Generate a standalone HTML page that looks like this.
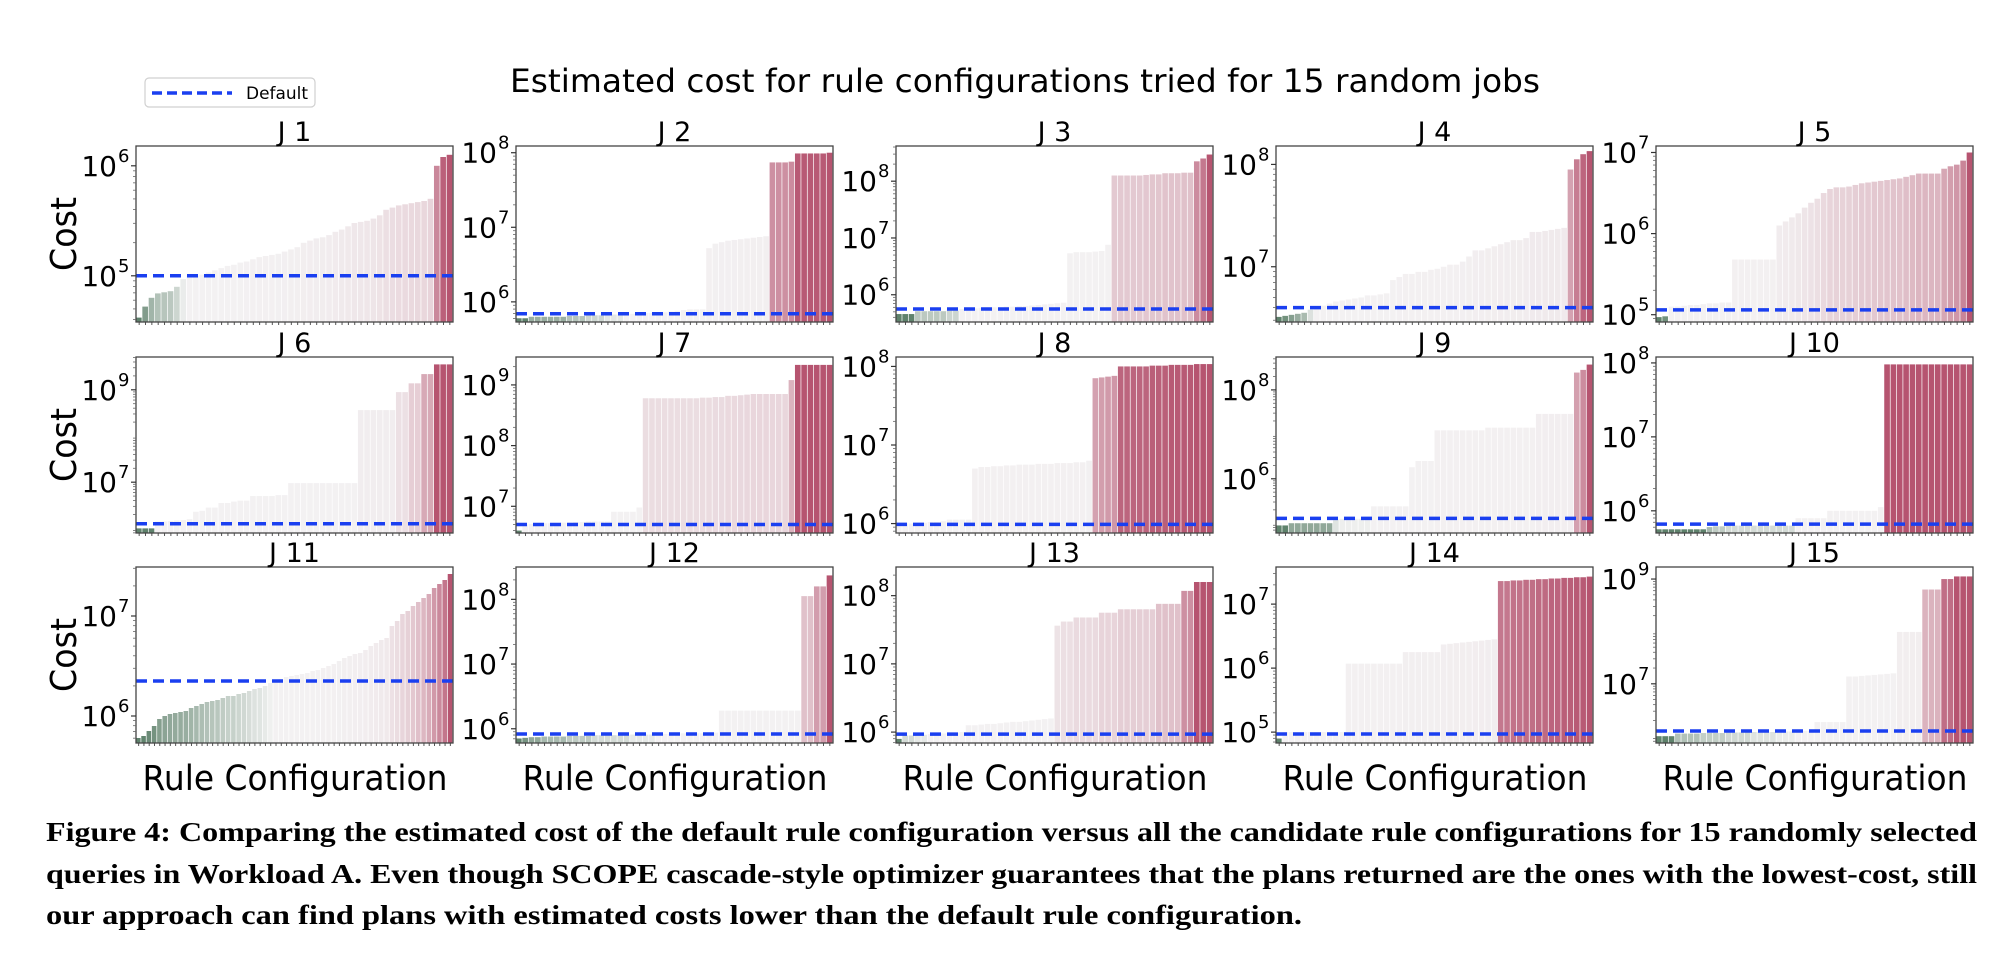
<!DOCTYPE html>
<html><head><meta charset="utf-8"><style>
html,body{margin:0;padding:0;background:#fff;}
svg{display:block;}
</style></head><body>
<svg id="fig" width="2006" height="976" viewBox="0 0 2006 976" xmlns="http://www.w3.org/2000/svg">
<rect x="0" y="0" width="2006" height="976" fill="#fff"/>
<text x="510" y="92" font-family="DejaVu Sans, sans-serif" font-size="32" textLength="1030" lengthAdjust="spacingAndGlyphs" fill="#000">Estimated cost for rule configurations tried for 15 random jobs</text>
<g>
<rect x="145" y="78" width="170" height="29" rx="4" fill="#fff" stroke="#d0d0d0" stroke-width="1.2"/>
<line x1="152" y1="93" x2="232" y2="93" stroke="#1a3ff0" stroke-width="3.5" stroke-dasharray="10,5"/>
<text x="246" y="99" font-family="DejaVu Sans, sans-serif" font-size="17" textLength="62" lengthAdjust="spacingAndGlyphs">Default</text>
</g>
<g id="panels"></g>
<g font-family="Liberation Serif, serif" font-weight="bold" font-size="27" fill="#000">
<text x="46" y="841" textLength="1931" lengthAdjust="spacingAndGlyphs">Figure 4:  Comparing the estimated cost of the default rule configuration versus all the candidate rule configurations for 15 randomly selected</text>
<text x="46" y="883" textLength="1931" lengthAdjust="spacingAndGlyphs">queries in Workload A. Even though SCOPE cascade-style optimizer guarantees that the plans returned are the ones with the lowest-cost, still</text>
<text x="46" y="924" textLength="1256" lengthAdjust="spacingAndGlyphs">our approach can find plans with estimated costs lower than the default rule configuration.</text>
</g>
</svg>
<script>
// log10 of estimated cost per rule configuration, sorted ascending
const j1Cost=[4.62,4.72,4.8,4.84,4.85,4.86,4.9,4.97,5.0,5.0,5.01,5.03,5.05,5.07,5.09,5.1,5.12,5.13,5.15,5.17,5.18,5.19,5.2,5.22,5.24,5.26,5.3,5.32,5.34,5.35,5.37,5.4,5.42,5.45,5.48,5.49,5.5,5.52,5.55,5.6,5.62,5.64,5.65,5.66,5.67,5.68,5.7,6.0,6.08,6.1];
const j2Cost=[5.78,5.78,5.8,5.8,5.8,5.8,5.8,5.8,5.81,5.81,5.81,5.82,5.82,5.82,5.83,5.83,5.83,5.84,5.84,5.84,5.85,5.85,5.86,5.86,5.87,5.88,5.89,5.9,5.9,5.9,6.72,6.78,6.8,6.82,6.83,6.84,6.85,6.86,6.87,6.88,7.87,7.87,7.87,7.88,7.99,7.99,7.99,7.99,7.99,8.0];
const j3Cost=[5.66,5.66,5.66,5.71,5.71,5.71,5.71,5.71,5.72,5.72,5.75,5.76,5.76,5.77,5.77,5.78,5.78,5.79,5.79,5.8,5.8,5.81,5.82,5.83,5.84,5.85,5.86,6.73,6.75,6.75,6.75,6.76,6.77,6.88,8.1,8.1,8.1,8.1,8.1,8.11,8.12,8.12,8.14,8.14,8.14,8.15,8.15,8.35,8.4,8.47];
const j4Cost=[6.51,6.52,6.53,6.54,6.55,6.58,6.6,6.62,6.64,6.66,6.67,6.68,6.69,6.7,6.72,6.72,6.73,6.74,6.87,6.9,6.93,6.93,6.95,6.95,6.97,6.98,7.0,7.02,7.02,7.05,7.1,7.16,7.16,7.18,7.2,7.22,7.24,7.26,7.26,7.28,7.34,7.34,7.35,7.36,7.37,7.38,7.95,8.05,8.1,8.13];
const j5Cost=[4.97,4.98,5.1,5.1,5.11,5.12,5.12,5.13,5.14,5.14,5.15,5.15,5.68,5.68,5.68,5.68,5.68,5.68,5.68,6.1,6.15,6.2,6.25,6.32,6.38,6.43,6.5,6.55,6.57,6.57,6.58,6.6,6.62,6.63,6.64,6.65,6.66,6.67,6.68,6.7,6.72,6.74,6.74,6.74,6.74,6.8,6.83,6.85,6.9,7.0];
const j6Cost=[6.0,6.0,6.0,6.15,6.15,6.16,6.17,6.18,6.2,6.36,6.38,6.45,6.45,6.55,6.55,6.58,6.6,6.6,6.7,6.7,6.7,6.7,6.72,6.72,6.98,6.98,6.98,6.98,6.98,6.98,6.98,6.98,6.98,6.98,6.98,8.56,8.56,8.56,8.56,8.56,8.56,8.95,8.95,9.14,9.14,9.34,9.34,9.55,9.55,9.55];
const j7Cost=[6.6,6.7,6.71,6.71,6.72,6.72,6.72,6.73,6.73,6.74,6.74,6.75,6.75,6.75,6.75,6.91,6.91,6.91,6.91,6.98,8.78,8.78,8.78,8.78,8.78,8.78,8.78,8.78,8.78,8.79,8.79,8.8,8.8,8.82,8.82,8.83,8.84,8.85,8.85,8.85,8.85,8.85,8.85,9.08,9.33,9.33,9.33,9.33,9.33,9.33];
const j8Cost=[5.99,6.0,6.0,6.01,6.01,6.02,6.02,6.03,6.05,6.05,6.05,6.05,6.7,6.72,6.72,6.73,6.73,6.74,6.74,6.75,6.75,6.75,6.76,6.76,6.76,6.77,6.77,6.77,6.78,6.78,6.8,7.85,7.86,7.87,7.88,8.0,8.0,8.0,8.0,8.0,8.01,8.01,8.01,8.02,8.02,8.02,8.02,8.03,8.03,8.03];
const j9Cost=[4.95,4.95,5.0,5.0,5.0,5.0,5.0,5.0,5.0,5.08,5.1,5.1,5.1,5.1,5.1,5.38,5.38,5.38,5.38,5.38,5.38,6.26,6.4,6.4,6.4,7.09,7.09,7.09,7.09,7.09,7.09,7.09,7.09,7.15,7.15,7.15,7.15,7.15,7.15,7.15,7.15,7.46,7.46,7.46,7.46,7.46,7.46,8.39,8.45,8.57];
const j10Cost=[5.75,5.75,5.75,5.75,5.75,5.75,5.75,5.75,5.78,5.79,5.79,5.8,5.8,5.8,5.8,5.8,5.8,5.8,5.8,5.8,5.8,5.8,5.9,5.9,5.9,5.9,5.9,6.0,6.0,6.0,6.0,6.0,6.0,6.0,6.0,6.05,7.98,7.98,7.98,7.98,7.98,7.98,7.98,7.98,7.98,7.98,7.98,7.98,7.98,7.98];
const j11Cost=[5.78,5.8,5.85,5.9,5.97,6.0,6.02,6.03,6.04,6.05,6.08,6.1,6.12,6.14,6.15,6.16,6.18,6.2,6.2,6.22,6.23,6.25,6.27,6.28,6.3,6.33,6.35,6.37,6.39,6.4,6.41,6.42,6.43,6.45,6.46,6.48,6.5,6.52,6.55,6.58,6.6,6.62,6.63,6.66,6.7,6.73,6.76,6.78,6.9,6.95,7.02,7.05,7.1,7.14,7.18,7.22,7.28,7.32,7.36,7.42];
const j12Cost=[5.85,5.86,5.87,5.87,5.88,5.88,5.88,5.88,5.89,5.89,5.89,5.89,5.9,5.9,5.9,5.9,5.9,5.9,5.91,5.91,5.91,5.91,5.92,5.92,5.92,5.92,5.93,5.93,5.93,5.93,5.94,5.94,6.28,6.28,6.28,6.28,6.28,6.28,6.28,6.28,6.28,6.28,6.28,6.28,6.28,8.05,8.05,8.2,8.2,8.37];
const j13Cost=[5.9,5.95,5.95,5.96,5.96,5.97,5.97,5.98,5.98,5.99,6.0,6.1,6.1,6.11,6.12,6.12,6.13,6.14,6.15,6.15,6.16,6.17,6.18,6.19,6.2,7.56,7.62,7.62,7.68,7.68,7.68,7.68,7.75,7.75,7.75,7.8,7.8,7.8,7.8,7.8,7.8,7.88,7.88,7.88,7.88,8.07,8.07,8.2,8.2,8.2];
const j14Cost=[4.9,5.0,5.0,5.0,5.0,5.0,5.0,5.0,5.0,5.0,5.0,6.07,6.07,6.07,6.07,6.07,6.07,6.07,6.07,6.07,6.25,6.25,6.25,6.25,6.25,6.25,6.37,6.38,6.39,6.4,6.41,6.42,6.43,6.44,6.45,7.36,7.36,7.37,7.37,7.38,7.38,7.39,7.39,7.4,7.4,7.41,7.41,7.42,7.42,7.43];
const j15Cost=[6.0,6.0,6.0,6.05,6.05,6.05,6.05,6.06,6.06,6.06,6.06,6.07,6.07,6.07,6.07,6.08,6.08,6.08,6.08,6.09,6.09,6.09,6.1,6.1,6.1,6.27,6.27,6.27,6.27,6.27,7.14,7.14,7.15,7.16,7.17,7.18,7.19,7.2,7.99,7.99,7.99,7.99,8.8,8.8,8.8,9.0,9.0,9.05,9.05,9.05];
const allCosts=[j1Cost,j2Cost,j3Cost,j4Cost,j5Cost,j6Cost,j7Cost,j8Cost,j9Cost,j10Cost,j11Cost,j12Cost,j13Cost,j14Cost,j15Cost];
// default rule configuration cost (log10)
const defaultCost=[5.0,5.84,5.75,6.6,5.06,6.1,6.7,5.99,5.11,5.82,6.35,5.92,5.97,4.97,6.1];
// y axis limits (log10)
const yMin=[4.58,5.73,5.52,6.46,4.91,5.9,6.56,5.88,4.78,5.7,5.73,5.78,5.84,4.83,5.87];
const yMax=[6.18,8.09,8.62,8.18,7.08,9.71,9.46,8.12,8.74,8.08,7.49,8.5,8.42,7.58,9.23];
const yTicks=[[5,6],[6,7,8],[6,7,8],[7,8],[5,6,7],[7,9],[7,8,9],[6,7,8],[6,8],[6,7,8],[6,7],[6,7,8],[6,7,8],[5,6,7],[7,9]];
const jobLabels=["J 1","J 2","J 3","J 4","J 5","J 6","J 7","J 8","J 9","J 10","J 11","J 12","J 13","J 14","J 15"];

const NS="http://www.w3.org/2000/svg";
const colLeft=[136,516,896,1276,1656], rowTop=[146,357,567], W=317, H=176;
const root=document.getElementById('panels');
function mk(tag,attrs,parent){const e=document.createElementNS(NS,tag);for(const k in attrs)e.setAttribute(k,attrs[k]);(parent||root).appendChild(e);return e;}
function lerp(a,b,t){return Math.round(a+(b-a)*t);}
function barColor(lv,ld,lmin,lmax){
  const v=Math.pow(10,lv),d=Math.pow(10,ld);
  if(v>=d){const mx=Math.pow(10,lmax);let t=mx>d?(v-d)/(mx-d):0;t=Math.pow(Math.min(1,Math.max(0,t)),1.6);
    return `rgb(${lerp(243,182,t)},${lerp(241,84,t)},${lerp(242,112,t)})`;}
  const mn=Math.pow(10,lmin);let t=d>mn?(d-v)/(d-mn):0;t=Math.pow(Math.min(1,Math.max(0,t)),1.3);
  return `rgb(${lerp(243,95,t)},${lerp(243,130,t)},${lerp(243,108,t)})`;
}
allCosts.forEach((costs,i)=>{
  const x0=colLeft[i%5], y0=rowTop[Math.floor(i/5)];
  const lo=yMin[i], hi=yMax[i];
  const g=mk('g',{});
  
  
  const yS=v=>y0+H-(v-lo)/(hi-lo)*H;
  const n=costs.length,bw=W/n;
  const dmin=Math.min(...costs),dmax=Math.max(...costs);
  costs.forEach((c,k)=>{
    const top=Math.max(y0,yS(c));
    const r=mk('rect',{x:(x0+k*bw).toFixed(2),y:top.toFixed(2),width:Math.max(0.5,bw-0.7).toFixed(2),height:Math.max(0,y0+H-top).toFixed(2),fill:barColor(c,defaultCost[i],dmin,dmax)},g);
    
    
    const t=mk('line',{x1:(x0+(k+0.5)*bw).toFixed(2),y1:y0+H,x2:(x0+(k+0.5)*bw).toFixed(2),y2:y0+H+3,stroke:'#555','stroke-width':1},g);
    
    
  });
  const dl=mk('line',{x1:x0,x2:x0+W,y1:yS(defaultCost[i]),y2:yS(defaultCost[i]),stroke:'#1a3ff0','stroke-width':3.5,'stroke-dasharray':'11,6'},g);
  
  
  const fr=mk('rect',{x:x0,y:y0,width:W,height:H,fill:'none',stroke:'#444','stroke-width':1.3},g);
  
  
  for(let dec=Math.floor(lo);dec<=Math.ceil(hi);dec++){
    for(let m=2;m<=9;m++){const lv=dec+Math.log10(m);if(lv<lo||lv>hi)continue;
      const mt=mk('line',{x1:x0-3,x2:x0,y1:yS(lv),y2:yS(lv),stroke:'#666','stroke-width':0.8},g);
      
      }
  }
  yTicks[i].forEach(tv=>{
    const yy=yS(tv);
    const tk=mk('line',{x1:x0-5,x2:x0,y1:yy,y2:yy,stroke:'#333','stroke-width':1.2},g);
    
    
    const tl=mk('text',{x:x0-19,y:yy+10,'text-anchor':'end','font-family':'DejaVu Sans, sans-serif','font-size':28,fill:'#000'},g);
    tl.textContent='10';
    
    
    const te=mk('text',{x:x0-18,y:yy-4,'font-family':'DejaVu Sans, sans-serif','font-size':18,fill:'#000'},g);
    te.textContent=String(tv);
    
    
  });
  const ttl=mk('text',{x:x0+W/2,y:y0-5,'text-anchor':'middle','font-family':'DejaVu Sans, sans-serif','font-size':27,fill:'#000'},g);
  ttl.textContent=jobLabels[i];
  
  
  if(i%5===0){
    const cy=y0+H/2;
    const yl=mk('text',{x:0,y:0,'text-anchor':'middle','font-family':'DejaVu Sans, sans-serif','font-size':36,fill:'#000',transform:`translate(76,${cy}) rotate(-90)`,textLength:74,lengthAdjust:'spacingAndGlyphs'},g);
    yl.textContent='Cost';
    
    
  }
  if(i>=10){
    const xl=mk('text',{x:x0+W/2-152,y:790,'font-family':'DejaVu Sans, sans-serif','font-size':35,fill:'#000',textLength:305,lengthAdjust:'spacingAndGlyphs'},g);
    xl.textContent='Rule Configuration';
    
    
  }
});
</script>
</body></html>
